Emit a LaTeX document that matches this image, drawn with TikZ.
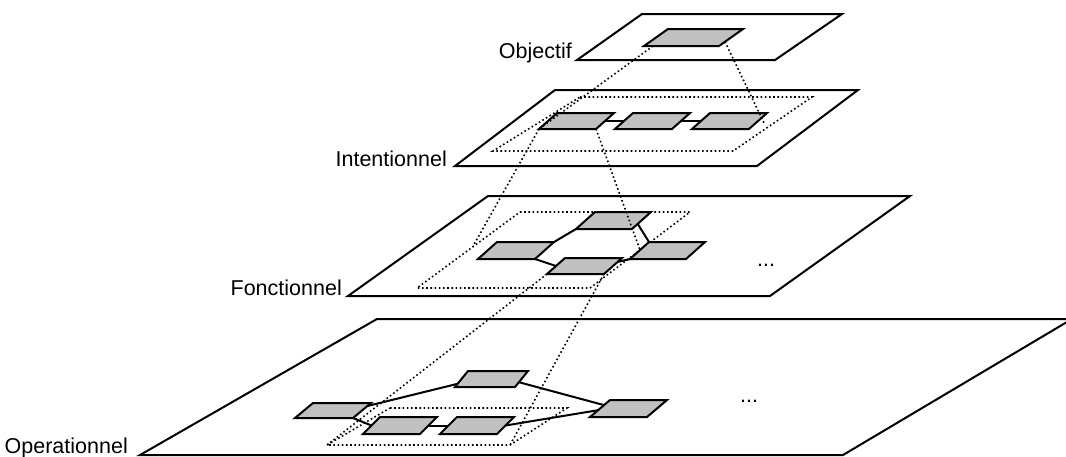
\documentclass[tikz,border=0pt]{standalone}
\usepackage{fontspec}
\setmainfont{Liberation Sans}
\usetikzlibrary{calc}
\definecolor{boxgray}{RGB}{192,192,192}
% name, x, y (bottom-left corner), width, skew, height
\newcommand{\defbox}[6]{%
  \coordinate (#1-bl) at (#2,#3);
  \coordinate (#1-br) at ($(#1-bl)+(#4,0)$);
  \coordinate (#1-tr) at ($(#1-br)+(#5,-#6)$);
  \coordinate (#1-tl) at ($(#1-bl)+(#5,-#6)$);
  \coordinate (#1-l) at ($(#1-bl)!.5!(#1-tl)$);
  \coordinate (#1-r) at ($(#1-br)!.5!(#1-tr)$);
}
\newcommand{\drawbox}[1]{%
  \draw[boxstyle] (#1-bl) -- (#1-br) -- (#1-tr) -- (#1-tl) -- cycle;
}
\begin{document}
\begin{tikzpicture}[x=1pt,y=-1pt,
  plane/.style={draw=black, fill=white, line width=2pt},
  boxstyle/.style={draw=black, fill=boxgray, line width=2pt},
  conn/.style={draw=black, line width=2pt},
  proj/.style={draw=black, line width=1.6pt, dash pattern=on 1.6pt off 2.6pt},
  lbl/.style={inner sep=0pt, anchor=base east, font=\fontsize{21.5}{24}\selectfont},
  more/.style={inner sep=0pt, anchor=base, font=\fontsize{21.5}{24}\selectfont}]
\useasboundingbox (0,0) rectangle (1066,456);
\clip (0,0) rectangle (1066,456);

% planes
\draw[plane] (642,14) coordinate (P1-tl) -- (842,14) coordinate (P1-tr) -- (775,60) coordinate (P1-br) -- (577,60) coordinate (P1-bl) -- cycle;
\draw[plane] (555,90) coordinate (P2-tl) -- (858,90) coordinate (P2-tr) -- (757,166) coordinate (P2-br) -- (455,166) coordinate (P2-bl) -- cycle;
\draw[plane] (488,196) coordinate (P3-tl) -- (910,196) coordinate (P3-tr) -- (770,296) coordinate (P3-br) -- (348,296) coordinate (P3-bl) -- cycle;
\draw[plane] (377,319) coordinate (P4-tl) -- (1072,319) coordinate (P4-tr) -- (843,455) coordinate (P4-br) -- (140,455) coordinate (P4-bl) -- cycle;

% labels
\node[lbl] (lobj) at (572,58) {Objectif};
\node[lbl] (lint) at (447,166) {Intentionnel};
\node[lbl] (lfon) at (342,295) {Fonctionnel};
\node[lbl] (lop) at (128,453) {Operationnel};
\node[more] (more3) at (766,266) {...};
\node[more] (more4) at (749,402) {...};

% dotted regions
\draw[proj] (580,97) coordinate (R2-tl) -- (812,97) coordinate (R2-tr) -- (733,151) coordinate (R2-br) -- (493,151) coordinate (R2-bl) -- cycle;
\draw[proj] (520,212) coordinate (R3-tl) -- (690,212) coordinate (R3-tr) -- (590,288) coordinate (R3-br) -- (417,288) coordinate (R3-bl) -- cycle;
\draw[proj] (390,408) coordinate (R4-tl) -- (567,408) coordinate (R4-tr) -- (510,445) coordinate (R4-br) -- (327,445) coordinate (R4-bl) -- cycle;

% boxes (geometry)
\defbox{O}{644}{46}{75}{24}{17}
\defbox{A}{539}{129}{57}{18}{16}
\defbox{B}{615}{129}{57}{18}{16}
\defbox{C}{692}{129}{57}{18}{16}
\defbox{ft}{576}{229}{56}{19}{17}
\defbox{fl}{478}{259}{57}{19}{17}
\defbox{fb}{547}{274}{57}{18}{16}
\defbox{fr}{630}{259}{56}{19}{17}
\defbox{ot}{455}{387}{60}{13}{16}
\defbox{ol}{295}{418}{58}{18}{15}
\defbox{ma}{363}{434}{57}{17}{17}
\defbox{mb}{440}{434}{57}{17}{17}
\defbox{or}{590}{417}{57}{20}{17}

% connectors
\draw[conn] (A-r) -- (B-l);
\draw[conn] (B-r) -- (C-l);
\draw[conn] (fl-tr) -- (ft-bl);
\draw[conn] ($(ft-br)!.3!(ft-tr)$) -- (fr-tl);
\draw[conn] (fl-br) -- (fb-l);
\draw[conn] ($(fb-br)!.75!(fb-tr)$) -- (fr-bl);
\draw[conn] ($(ol-br)!.8!(ol-tr)$) -- ($(ot-bl)!.2!(ot-tl)$);
\draw[conn] ($(ot-br)!.3!(ot-tr)$) -- ($(or-bl)!.7!(or-tl)$);
\draw[conn] (ol-br) -- (ma-l);
\draw[conn] (ma-r) -- (mb-l);
\draw[conn] (mb-r) -- ($(or-bl)!.4!(or-tl)$);

% boxes (drawn)
\drawbox{O}
\drawbox{A}
\drawbox{B}
\drawbox{C}
\drawbox{ft}
\drawbox{fl}
\drawbox{fb}
\drawbox{fr}
\drawbox{ot}
\drawbox{ol}
\drawbox{ma}
\drawbox{mb}
\drawbox{or}

% projection lines
\coordinate (c1) at (765,125);
\draw[proj] ($(O-bl)!.12!(O-br)$) -- (A-bl);
\draw[proj] ($(O-br)!.25!(O-tr)$) -- (c1);
\draw[proj] (A-bl) -- ($(R3-tl)!.46!(R3-bl)$);
\draw[proj] (A-br) -- ($(R3-tr)!.5!(R3-br)$);
\draw[proj] (fb-bl) -- (R4-bl);
\draw[proj] (fb-br) -- (R4-br);
\end{tikzpicture}
\end{document}
